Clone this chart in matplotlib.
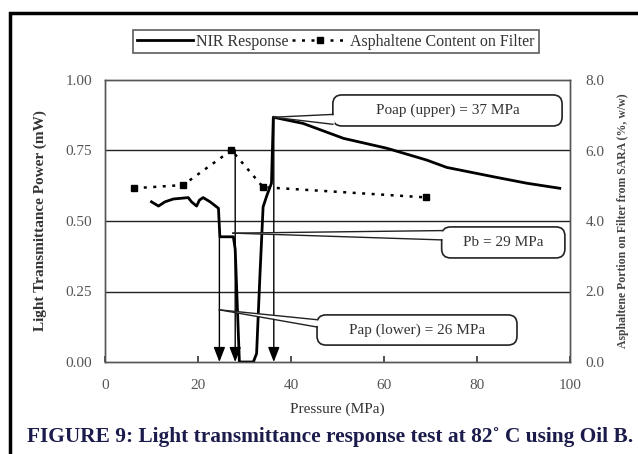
import numpy as np
import matplotlib
matplotlib.use("Agg")
import matplotlib.pyplot as plt
from matplotlib.patches import FancyBboxPatch, Polygon, Rectangle
from matplotlib.lines import Line2D
from matplotlib.transforms import IdentityTransform

# NIR response (light transmittance power, mW) vs pressure (MPa)
nir_p = [10.0, 11.5, 12.9, 14.7, 17.9, 18.6, 19.7, 20.3, 21.1, 22.6, 24.4, 24.7,
         27.6, 28.0, 28.9, 31.9, 32.6, 33.3, 34.0, 34.8, 35.8, 36.2,
         42.6, 51.3, 60.6, 69.2, 73.5, 83.5, 90.7, 97.8]
nir_mw = [0.568, 0.553, 0.568, 0.578, 0.583, 0.568, 0.553, 0.574, 0.583, 0.568, 0.545, 0.444,
          0.444, 0.40, 0.0, 0.0, 0.03, 0.30, 0.55, 0.59, 0.634, 0.868,
          0.846, 0.793, 0.758, 0.716, 0.69, 0.657, 0.634, 0.616]

# asphaltene content on filter (%, w/w), right axis
asph_p = [6.3, 16.8, 27.2, 34.0, 69.0]
asph_pct = [4.93, 5.02, 6.01, 4.96, 4.67]

# onset arrows: (pressure, start level in mW)
arrows = [(24.6, 0.444), (28.0, 0.752), (36.3, 0.868)]

# callouts: text, tip, box (x0, x1, y0, y1) in data units, wedge base y range
callouts = [
    ("Poap (upper) = 37 MPa", (36.2, 0.868), (49.0, 98.3, 0.837, 0.947), (0.843, 0.878)),
    ("Pb = 29 MPa", (27.5, 0.457), (72.4, 98.9, 0.369, 0.479), (0.433, 0.466)),
    ("Pap (lower) = 26 MPa", (24.6, 0.185), (45.6, 88.6, 0.060, 0.167), (0.124, 0.150)),
]

serif = ["Liberation Serif", "DejaVu Serif"]
plt.rcParams['font.family'] = serif

fig = plt.figure(figsize=(6.38, 4.54), dpi=100)
ax = fig.add_axes([105/638, 1-362/454, 465/638, 282/454])
ax2 = ax.twinx()

ax.set_xlim(0, 100)
ax.set_ylim(0, 1.0)
ax2.set_ylim(0, 8.0)

for yv in [0.25, 0.5, 0.75]:
    ax.axhline(yv, color='#222222', lw=1.0, zorder=1)

asph_style = dict(color='black', lw=1.8, ls=(0, (1.2, 2.6)), marker='s', ms=4)
ax.plot(nir_p, nir_mw, color='black', lw=2.0, zorder=4, solid_joinstyle='round')
ax2.plot(asph_p, asph_pct, zorder=4, **asph_style)

# arrows to the pressure axis
for px, ystart in arrows:
    ax.annotate("", xy=(px, 0.0), xytext=(px, ystart),
                arrowprops=dict(arrowstyle='-|>,head_length=0.9,head_width=0.35',
                                color='black', lw=1.0, shrinkA=0, shrinkB=0),
                zorder=5)

# callout boxes, drawn in pixel space so the corners stay round
tr = ax.transData
ident = IdentityTransform()
for text, tip, box, base in callouts:
    x0, x1, y0, y1 = box
    (X0, Y0) = tr.transform((x0, y0))
    (X1, Y1) = tr.transform((x1, y1))
    T = tr.transform(tip)
    B0 = tr.transform((x0, base[0]))
    B1 = tr.transform((x0, base[1]))
    rb = FancyBboxPatch((X0, Y0), X1 - X0, Y1 - Y0,
                        boxstyle='round,pad=0,rounding_size=9',
                        fc='white', ec='#222222', lw=1.2, zorder=6,
                        transform=ident)
    ax.add_patch(rb)
    wedge = Polygon([T, (B0[0] + 2, B0[1] + 0.8), (B1[0] + 2, B1[1] - 0.8)], closed=True,
                    fc='white', ec='none', zorder=7, transform=ident)
    ax.add_patch(wedge)
    ax.add_line(Line2D([T[0], B0[0]], [T[1], B0[1]], color='#222222', lw=1.0,
                       zorder=7, transform=ident))
    ax.add_line(Line2D([T[0], B1[0]], [T[1], B1[1]], color='#222222', lw=1.0,
                       zorder=7, transform=ident))
    ax.text((x0 + x1) / 2, (y0 + y1) / 2, text, ha='center', va='center',
            fontsize=11, color='#333333', zorder=8)

ax.set_xticks([0, 20, 40, 60, 80, 100])
ax.set_yticks([0.0, 0.25, 0.5, 0.75, 1.0])
ax.set_yticklabels(['0.00', '0.25', '0.50', '0.75', '1.00'])
ax2.set_yticks([0, 2, 4, 6, 8])
ax2.set_yticklabels(['0.0', '2.0', '4.0', '6.0', '8.0'])

ax.tick_params(axis='x', direction='in', length=4, width=1.2, color='#333333',
               labelsize=11, labelcolor='#555555', pad=12)
ax.tick_params(axis='y', length=0, labelsize=11, labelcolor='#555555', pad=9)
ax2.tick_params(axis='y', length=0, labelsize=11, labelcolor='#555555', pad=11)

for a in (ax, ax2):
    for s in a.spines.values():
        s.set_color('#555555')
        s.set_linewidth(1.0)

ax.set_xlabel("Pressure (MPa)", fontsize=11, color='#333333', labelpad=8)
fig.text(40/638, 1-221/454, "Light Transmittance Power (mW)", rotation=90,
         ha='center', va='center', fontsize=11, fontweight='bold', color='#333333')
fig.text(623/638, 1-221/454, "Asphaltene Portion on Filter from SARA (%, w/w)",
         rotation=90, ha='center', va='center', fontsize=8.5, fontweight='bold',
         color='#444444')

# legend
handles = [Line2D([], [], color='black', lw=2.0),
           Line2D([], [], **asph_style)]
leg = fig.legend(handles, ["NIR Response", "Asphaltene Content on Filter"],
                 loc='center', bbox_to_anchor=(336/638, 1-41.5/454), ncol=2,
                 fontsize=11.5, frameon=True, fancybox=False, edgecolor='#333333',
                 handlelength=3.5, columnspacing=0.25, handletextpad=0.15,
                 borderpad=0.25, borderaxespad=0)
leg.get_frame().set_linewidth(1.2)
for t in leg.get_texts():
    t.set_color('#333333')

# outer frame and caption
fig.patches.append(Rectangle((10/638, -0.1), 1.2, 1 - 13/454 + 0.1,
                             transform=fig.transFigure, fill=False,
                             ec='black', lw=2.5))
fig.text(27/638, 1-437/454, "FIGURE 9: Light transmittance response test at 82\u02da C using Oil B.",
         ha='left', va='center', fontsize=15.4, fontweight='bold', color='#1c1c4c')

fig.savefig("out.png", dpi=100)
